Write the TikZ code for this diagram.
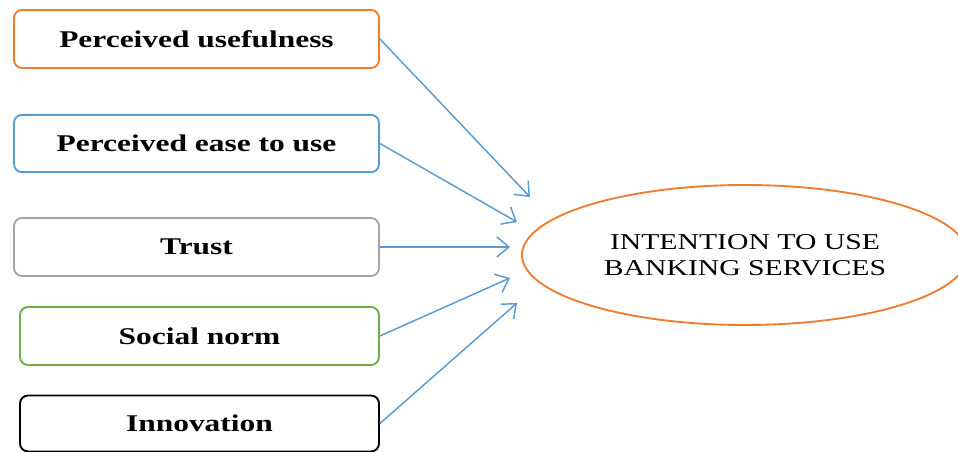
\documentclass[tikz,border=0pt]{standalone}
\usepackage{fontspec}
\setmainfont{Liberation Serif}
\usetikzlibrary{shapes.geometric,arrows.meta}
\definecolor{cOrange}{HTML}{ED7D31}
\definecolor{cBlue}{HTML}{5B9BD5}
\definecolor{cGray}{HTML}{A5A5A5}
\definecolor{cGreen}{HTML}{70AD47}
\newcommand{\wide}[1]{\scalebox{1.31}[1]{#1}}
\tikzset{
  factor/.style={draw, rounded corners=6pt, line width=1.4pt, fill=white,
    inner sep=0pt, font=\fontsize{18pt}{20pt}\selectfont\bfseries},
  link/.style={draw=cBlue, line width=1.1pt, -{Straight Barb[length=9pt,width=15pt,line width=1.1pt]}},
}
\begin{document}
\begin{tikzpicture}[x=0.75pt,y=-0.75pt]
\useasboundingbox (0,0) rectangle (958,452);
\clip (0,0) rectangle (958,452);
\node[factor, draw=cOrange, minimum width=273.75pt, minimum height=43.5pt] (pu) at (196.5,39) {\wide{Perceived usefulness}};
\node[factor, draw=cBlue, minimum width=273.75pt, minimum height=43pt] (pe) at (196.5,143.5) {\wide{Perceived ease to use}};
\node[factor, draw=cGray, minimum width=273.75pt, minimum height=43.5pt] (tr) at (196.5,247) {\wide{Trust}};
\node[factor, draw=cGreen, minimum width=269.25pt, minimum height=43.5pt] (sn) at (199.5,336) {\wide{Social norm}};
\node[factor, draw=black, minimum width=269.25pt, minimum height=42pt] (in) at (199.5,423.5) {\wide{Innovation}};
\node[ellipse, draw=cOrange, line width=1.4pt, minimum width=334.5pt, minimum height=105pt, inner sep=0pt,
  align=center, font=\fontsize{17pt}{19.5pt}\selectfont] (iu) at (745,255)
  {\wide{INTENTION TO USE}\\\wide{BANKING SERVICES}};
\coordinate (e1) at (530,197);
\coordinate (e2) at (517,222);
\coordinate (e3) at (510,247);
\coordinate (e4) at (510,278);
\coordinate (e5) at (517,303);
\draw[link] (pu.east) -- (e1);
\draw[link] (pe.east) -- (e2);
\draw[link] (tr.east) -- (e3);
\draw[link] (sn.east) -- (e4);
\draw[link] (in.east) -- (e5);
\end{tikzpicture}
\end{document}
